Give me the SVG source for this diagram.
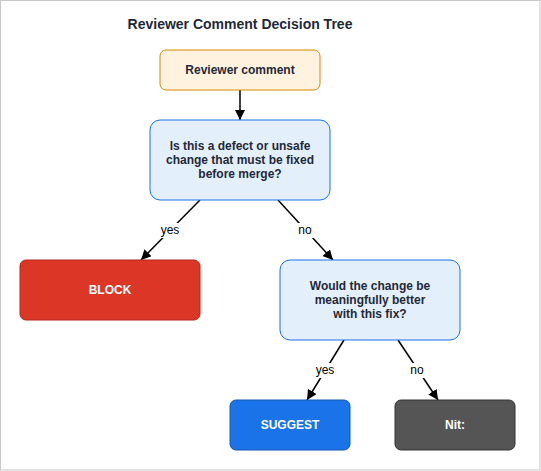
<svg xmlns="http://www.w3.org/2000/svg" width="541" height="471" viewBox="0 0 541 471">
<defs>
<marker id="arr" viewBox="0 0 10 10" refX="10" refY="5" markerWidth="10" markerHeight="10" markerUnits="userSpaceOnUse" orient="auto">
<path d="M0,0 L10,5 L0,10 z" fill="#000"/>
</marker>
<style>
.t{font-family:"Liberation Sans",Arial,sans-serif;font-weight:bold;font-size:12px;fill:#1f2937;text-anchor:middle}
.w{fill:#ffffff}
.e{stroke:#000;stroke-width:1.5;fill:none;marker-end:url(#arr)}
.lbl{font-family:"Liberation Sans",Arial,sans-serif;font-size:12px;fill:#000;text-anchor:middle}
.bg{fill:#fff}
</style>
</defs>
<rect x="0.5" y="0.5" width="539.5" height="469.5" fill="#fff" stroke="#c8c8c8"/>
<text x="240" y="29" class="t" style="font-size:14px">Reviewer Comment Decision Tree</text>
<g id="edges">
<line class="e" x1="240" y1="90" x2="240" y2="120"/>
<line class="e" x1="200" y1="200" x2="141" y2="260"/>
<line class="e" x1="278" y1="200" x2="333" y2="260"/>
<line class="e" x1="344" y1="340" x2="307" y2="400"/>
<line class="e" x1="398" y1="340" x2="438" y2="400"/>
<rect class="bg" x="159" y="223" width="22" height="15"/>
<text class="lbl" x="170" y="234">yes</text>
<rect class="bg" x="296" y="223" width="18" height="15"/>
<text class="lbl" x="305" y="234">no</text>
<rect class="bg" x="314" y="363" width="22" height="15"/>
<text class="lbl" x="325" y="374">yes</text>
<rect class="bg" x="408" y="363" width="18" height="15"/>
<text class="lbl" x="417" y="374">no</text>
</g>
<g id="start">
<rect x="160" y="50" width="160" height="40" rx="6" fill="#fff2df" stroke="#d88a00"/>
<text class="t" x="240" y="74">Reviewer comment</text>
</g>
<g id="q1">
<rect x="150" y="120" width="180" height="80" rx="10" fill="#e3f0fc" stroke="#1a73e8"/>
<text class="t" x="240" y="150">Is this a defect or unsafe</text>
<text class="t" x="240" y="164">change that must be fixed</text>
<text class="t" x="240" y="178">before merge?</text>
</g>
<g id="block">
<rect x="20" y="260" width="180" height="60" rx="6" fill="#dc3626" stroke="#b3261e"/>
<text class="t w" x="110" y="294">BLOCK</text>
</g>
<g id="q2">
<rect x="280" y="260" width="180" height="80" rx="10" fill="#e3f0fc" stroke="#1a73e8"/>
<text class="t" x="370" y="290">Would the change be</text>
<text class="t" x="370" y="304">meaningfully better</text>
<text class="t" x="370" y="318">with this fix?</text>
</g>
<g id="suggest">
<rect x="230" y="400" width="120" height="50" rx="6" fill="#1a73e8" stroke="#1558b0"/>
<text class="t w" x="290" y="429">SUGGEST</text>
</g>
<g id="nit">
<rect x="395" y="400" width="120" height="50" rx="6" fill="#555555" stroke="#333333"/>
<text class="t w" x="455" y="429">Nit:</text>
</g>
</svg>
